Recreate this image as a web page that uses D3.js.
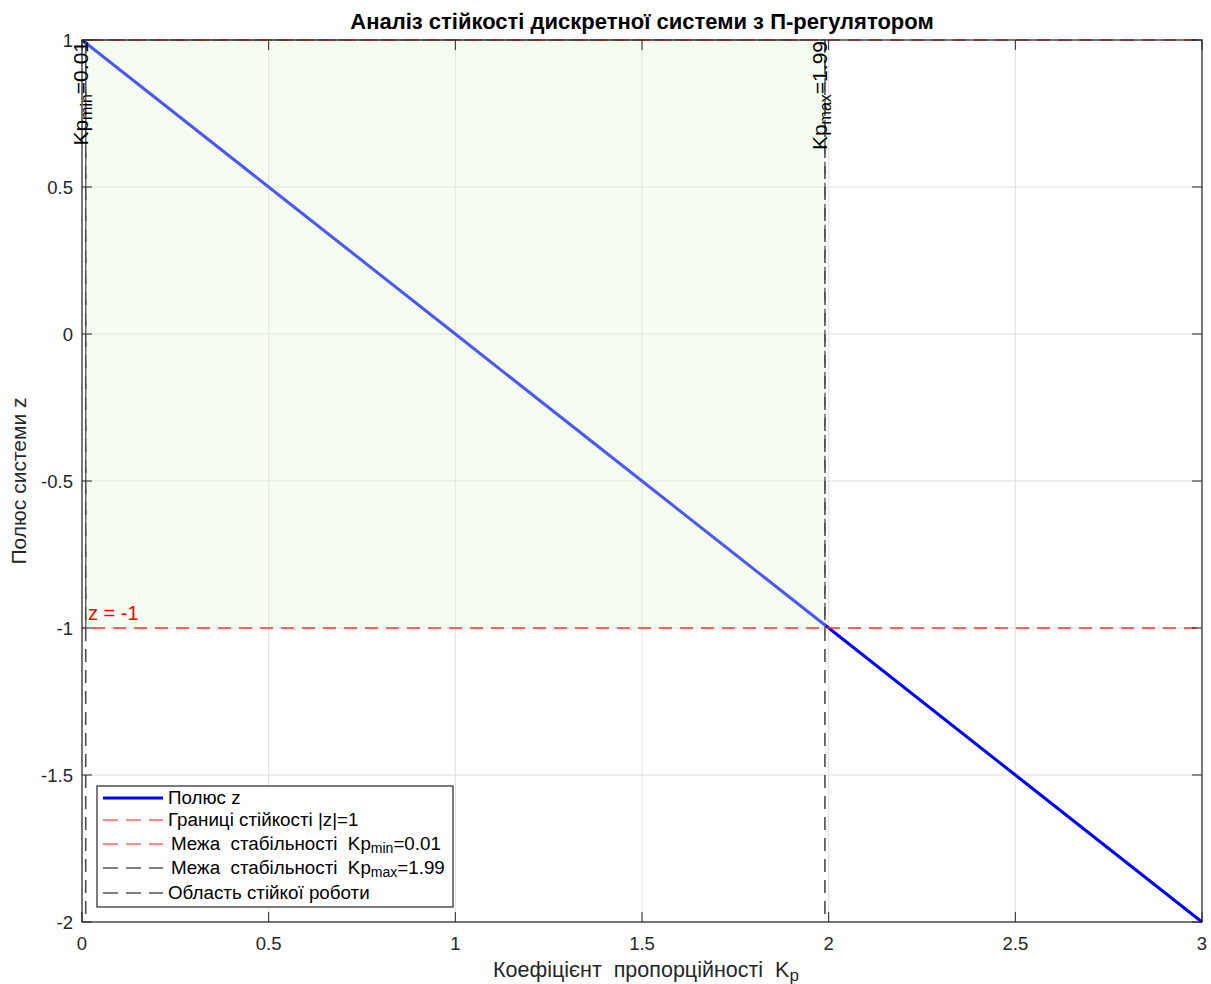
<!DOCTYPE html>
<html><head><meta charset="utf-8">
<script src="https://cdn.jsdelivr.net/npm/d3@7"></script>
<style>body{margin:0;background:#fff;} svg{display:block;} text{font-family:"Liberation Sans",Arial,sans-serif;}</style>
</head><body>
<svg id="c" width="1211" height="984"></svg>
<script>
const kpValues = [0, 0.5, 1, 1.5, 2, 2.5, 3];
const poleValues = [1, 0.5, 0, -0.5, -1, -1.5, -2];
const stabilityBounds = [1, -1];
const kpMin = 0.01, kpMax = 1.99;
const xTicks = [0, 0.5, 1, 1.5, 2, 2.5, 3];
const yTicks = [1, 0.5, 0, -0.5, -1, -1.5, -2];
const title = "Аналіз стійкості дискретної системи з П-регулятором";

const svg = d3.select("#c");
const L = 82, R = 1202, T = 40, B = 922;
const x = d3.scaleLinear().domain([0, 3]).range([L, R]);
const y = d3.scaleLinear().domain([-2, 1]).range([B, T]);
const DASH = "13,8";

// grid
const g = svg.append("g");
g.selectAll(".gx").data(xTicks).join("line").attr("x1", d => x(d)).attr("x2", d => x(d))
  .attr("y1", T).attr("y2", B).attr("stroke", "#dfdfdf").attr("stroke-width", 1);
g.selectAll(".gy").data(yTicks).join("line").attr("y1", d => y(d)).attr("y2", d => y(d))
  .attr("x1", L).attr("x2", R).attr("stroke", "#dfdfdf").attr("stroke-width", 1);

// pole line
const line = d3.line().x(d => x(d[0])).y(d => y(d[1]));
svg.append("path").datum(kpValues.map((k, i) => [k, poleValues[i]]))
  .attr("d", line).attr("fill", "none").attr("stroke", "#0000ff").attr("stroke-width", 3);

// stable region patch
svg.append("rect").attr("x", x(kpMin)).attr("y", y(1)).attr("width", x(kpMax) - x(kpMin))
  .attr("height", y(-1) - y(1)).attr("fill", "rgb(225,250,215)").attr("fill-opacity", 0.35);
svg.append("path").attr("d", `M${x(kpMin)},${y(-1)}V${y(1)}H${x(kpMax)}V${y(-1)}`)
  .attr("fill", "none").attr("stroke", "#666").attr("stroke-width", 1.5).attr("stroke-dasharray", DASH);

// vertical Kp lines
[kpMin, kpMax].forEach(k => {
  svg.append("line").attr("x1", x(k)).attr("x2", x(k)).attr("y1", T).attr("y2", B)
    .attr("stroke", "#4d4d4d").attr("stroke-width", 1.6).attr("stroke-dasharray", DASH);
});

// red bounds
svg.selectAll(".rb").data(stabilityBounds).join("line").attr("x1", L).attr("x2", R)
  .attr("y1", d => y(d)).attr("y2", d => y(d)).attr("stroke", "#ff3333").attr("stroke-width", 1.5)
  .attr("stroke-dasharray", DASH).attr("stroke-dashoffset", 11);

// axes box
svg.append("rect").attr("x", L).attr("y", T).attr("width", R - L).attr("height", B - T)
  .attr("fill", "none").attr("stroke", "#262626").attr("stroke-width", 1.2);

// ticks
const tk = 10;
xTicks.forEach(d => {
  svg.append("line").attr("x1", x(d)).attr("x2", x(d)).attr("y1", B).attr("y2", B - tk).attr("stroke", "#262626");
  svg.append("line").attr("x1", x(d)).attr("x2", x(d)).attr("y1", T).attr("y2", T + tk).attr("stroke", "#262626");
});
yTicks.forEach(d => {
  svg.append("line").attr("y1", y(d)).attr("y2", y(d)).attr("x1", L).attr("x2", L + tk).attr("stroke", "#262626");
  svg.append("line").attr("y1", y(d)).attr("y2", y(d)).attr("x1", R).attr("x2", R - tk).attr("stroke", "#262626");
});
svg.selectAll(".xl").data(xTicks).join("text").attr("x", d => x(d)).attr("y", B + 28)
  .attr("text-anchor", "middle").attr("font-size", 18.5).attr("fill", "#262626").text(d => d);
svg.selectAll(".yl").data(yTicks).join("text").attr("x", L - 9).attr("y", d => y(d) + 7)
  .attr("text-anchor", "end").attr("font-size", 18.5).attr("fill", "#262626").text(d => d);

// title & labels
svg.append("text").attr("x", 642).attr("y", 29).attr("text-anchor", "middle")
  .attr("font-size", 22).attr("font-weight", "bold").attr("fill", "#000").text(title);
const xl = svg.append("text").attr("x", 646).attr("y", 977).attr("text-anchor", "middle")
  .attr("font-size", 21.5).attr("fill", "#262626").attr("xml:space", "preserve");
xl.append("tspan").text("Коефіцієнт  пропорційності  K");
xl.append("tspan").attr("font-size", 17).attr("dy", 4).text("p");
svg.append("text").attr("transform", `translate(26,${(T + B) / 2}) rotate(-90)`).attr("text-anchor", "middle")
  .attr("font-size", 21).attr("fill", "#262626").text("Полюс системи z");

// annotations
function vlabel(k, sub, val) {
  const t = svg.append("text").attr("transform", `translate(${x(k) + 2},${T + 1}) rotate(-90)`)
    .attr("text-anchor", "end").attr("font-size", 21).attr("fill", "#000");
  t.append("tspan").text("Kp");
  t.append("tspan").attr("font-size", 16).attr("dy", 4).text(sub);
  t.append("tspan").attr("dy", -4).text("=" + val);
}
vlabel(kpMin, "min", "0.01");
vlabel(kpMax, "max", "1.99");
svg.append("text").attr("x", 88).attr("y", y(-1) - 8).attr("font-size", 20).attr("fill", "#ff0000").text("z = -1");

// legend
const lg = svg.append("g");
lg.append("rect").attr("x", 97).attr("y", 786).attr("width", 356).attr("height", 121)
  .attr("fill", "#fff").attr("stroke", "#262626").attr("stroke-width", 1.2);
const items = [
  {c: "#0000ff", w: 3, dash: null, parts: [["Полюс z"]]},
  {c: "#ff6666", w: 1.5, dash: "15,8", parts: [["Границі стійкості |z|=1"]]},
  {c: "#ff6666", w: 1.5, dash: "15,8", parts: [["Межа  стабільності  Kp"], ["min", 1], ["=0.01"]]},
  {c: "#555", w: 1.5, dash: "15,8", parts: [["Межа  стабільності  Kp"], ["max", 1], ["=1.99"]]},
  {c: "#555", w: 1.5, dash: "15,8", parts: [["Область стійкої роботи"]]}
];
const ly = [798, 820, 844, 868, 893];
items.forEach((it, i) => {
  lg.append("line").attr("x1", 103).attr("x2", 163).attr("y1", ly[i]).attr("y2", ly[i])
    .attr("stroke", it.c).attr("stroke-width", it.w).attr("stroke-dasharray", it.dash);
  const t = lg.append("text").attr("x", i >= 2 && i <= 3 ? 171 : 168).attr("y", ly[i] + 6)
    .attr("font-size", 18.8).attr("fill", "#000").attr("xml:space", "preserve");
  let sub = false;
  it.parts.forEach(p => {
    const s = t.append("tspan").text(p[0]);
    if (p[1]) { s.attr("font-size", 14).attr("dy", 3); sub = true; }
    else if (sub) { s.attr("dy", -3); sub = false; }
  });
});
</script>
</body></html>
